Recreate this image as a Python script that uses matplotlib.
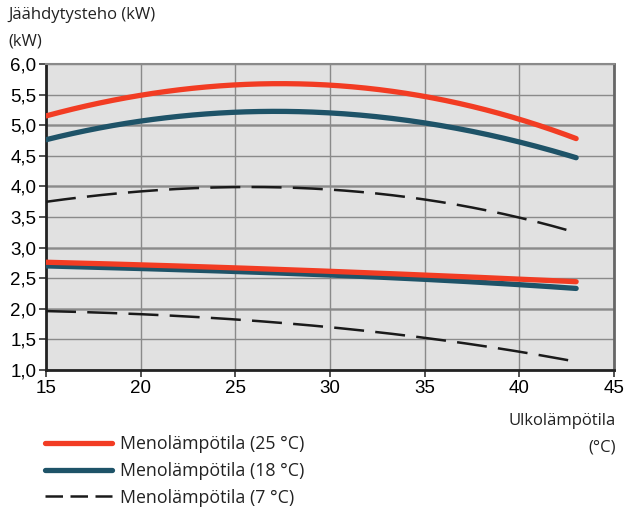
import matplotlib
matplotlib.use("Agg")
import matplotlib.pyplot as plt
from matplotlib.lines import Line2D
import numpy as np

x = [15, 20, 25, 27, 30, 35, 40, 43]
red_hi = [5.15, 5.49, 5.66, 5.69, 5.64, 5.46, 5.12, 4.77]
teal_hi = [4.76, 5.07, 5.22, 5.23, 5.18, 5.04, 4.74, 4.46]
blk_hi = [3.75, 3.91, 4.00, 3.99, 3.94, 3.78, 3.50, 3.24]
x_lo = [15, 20, 25, 30, 35, 40, 43]
red_lo = [2.76, 2.72, 2.67, 2.61, 2.55, 2.49, 2.44]
teal_lo = [2.70, 2.66, 2.61, 2.55, 2.48, 2.40, 2.33]
blk_lo = [1.96, 1.92, 1.82, 1.70, 1.52, 1.31, 1.13]

labels = ["Menolämpötila (25 °C)", "Menolämpötila (18 °C)", "Menolämpötila (7 °C)"]
xticks = [15, 20, 25, 30, 35, 40, 45]
yticks = [1.0, 1.5, 2.0, 2.5, 3.0, 3.5, 4.0, 4.5, 5.0, 5.5, 6.0]

RED = "#f23c23"
TEAL = "#1e5368"
BLK = "#1a1a1a"

plt.rcParams['font.family'] = ['Open Sans', 'DejaVu Sans']

fig = plt.figure(figsize=(6.27, 5.08), dpi=100)
ax = fig.add_axes([46/627, 1-370/508, (614-46)/627, (370-64)/508])
ax.set_facecolor("#e1e1e1")

def smooth(xs, ys):
    xs = np.asarray(xs, float); ys = np.asarray(ys, float)
    xx = np.linspace(xs[0], xs[-1], 200)
    c = np.polyfit(xs, ys, 3)
    return xx, np.polyval(c, xx)

ax.plot(*smooth(x, red_hi), color=RED, lw=3.8, solid_capstyle='round', zorder=3)
ax.plot(*smooth(x_lo, red_lo), color=RED, lw=3.8, solid_capstyle='round', zorder=3)
ax.plot(*smooth(x, teal_hi), color=TEAL, lw=3.8, solid_capstyle='round', zorder=2.9)
ax.plot(*smooth(x_lo, teal_lo), color=TEAL, lw=3.8, solid_capstyle='round', zorder=2.9)
ax.plot(*smooth(x, blk_hi), color=BLK, lw=1.8, dashes=(12, 4.5), zorder=3)
ax.plot(*smooth(x_lo, blk_lo), color=BLK, lw=1.8, dashes=(12, 4.5), zorder=3)

ax.set_xlim(15, 45)
ax.set_ylim(1.0, 6.0)
ax.set_xticks(xticks)
ax.set_xticklabels([str(t) for t in xticks], fontsize=13.5, family=['Liberation Sans'])
ax.set_yticks(yticks)
ax.set_yticklabels([f"{t:.1f}".replace(".", ",") for t in yticks], fontsize=13.5, family=['Liberation Sans'])
ax.grid(True, color="#8a8a8a", lw=1.0)
for t in yticks:
    if t == int(t) and 1 < t < 6:
        ax.axhline(t, color="#9a9a9a", lw=1.8, zorder=1)
ax.tick_params(axis='both', direction='out', length=5, width=1.2, color="#333333", pad=2)
ax.spines['left'].set_color("#222222"); ax.spines['left'].set_linewidth(2)
ax.spines['bottom'].set_color("#222222"); ax.spines['bottom'].set_linewidth(2)
ax.spines['top'].set_color("#8a8a8a"); ax.spines['top'].set_linewidth(1.5)
ax.spines['right'].set_color("#666666"); ax.spines['right'].set_linewidth(2)

fig.text(8/627, 1-15/508, "Jäähdytysteho (kW)", fontsize=12, va='center', ha='left', color="#222222")
fig.text(8/627, 1-42/508, "(kW)", fontsize=12, va='center', ha='left', color="#222222")
fig.text(616/627, 1-421/508, "Ulkolämpötila", fontsize=12, va='center', ha='right', color="#222222")
fig.text(616/627, 1-447/508, "(°C)", fontsize=12, va='center', ha='right', color="#222222")

h = [Line2D([], [], color=RED, lw=3.8, solid_capstyle='round'),
     Line2D([], [], color=TEAL, lw=3.8, solid_capstyle='round'),
     Line2D([], [], color=BLK, lw=1.8, dashes=(7, 3))]
fig.legend(handles=h, labels=labels, loc='upper left',
           bbox_to_anchor=(36/627, 1-426/508), frameon=False, fontsize=12.8,
           handlelength=3.8, handletextpad=0.45, labelspacing=0.5, borderpad=0,
           labelcolor="#222222")

fig.savefig("out.png", dpi=100)
